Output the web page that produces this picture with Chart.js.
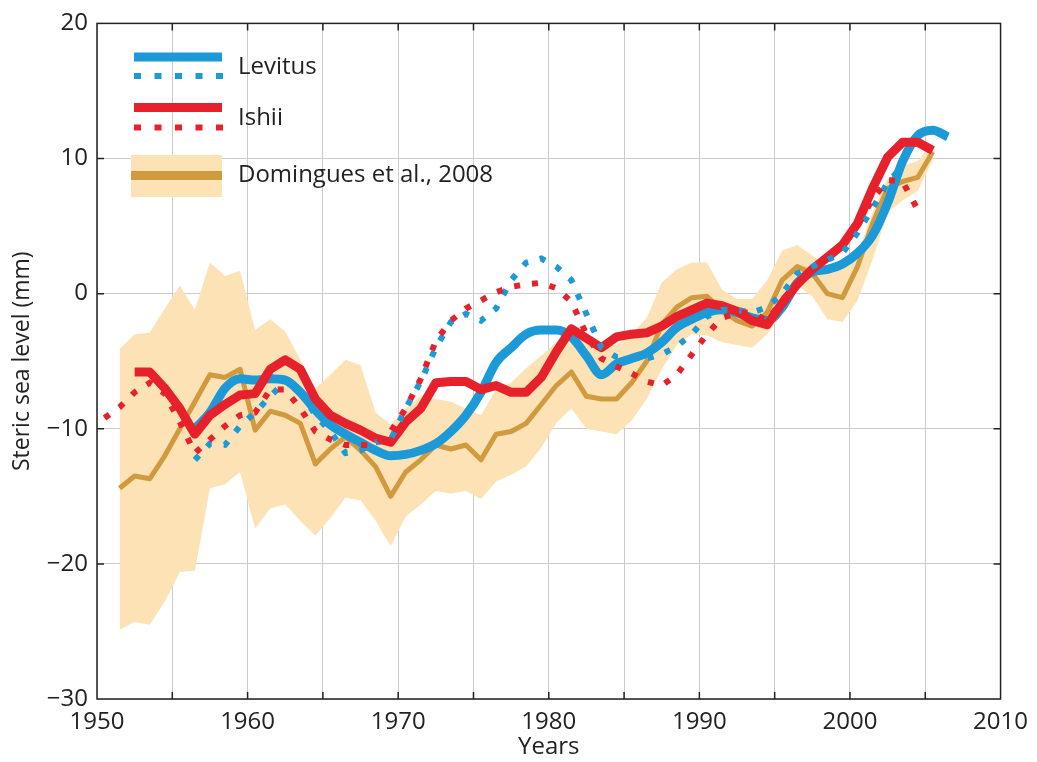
<!DOCTYPE html>
<html><head><meta charset="utf-8">
<script src="https://cdn.jsdelivr.net/npm/chart.js@4/dist/chart.umd.min.js"></script>
<style>html,body{margin:0;padding:0;background:#fff}#wrap{width:1037px;height:762px}</style>
</head><body><div id="wrap"><canvas id="c" width="1037" height="762"></canvas></div>
<script>
// Years: each series value is plotted at mid-year (start + index)
const levitusStart = 1956.5;
const levitus = [-10.0, -8.8, -7.0, -6.3, -6.4, -6.3, -6.4, -7.3, -8.6, -9.7,
  -10.4, -11.0, -11.6, -12.0, -11.9, -11.6, -11.1, -10.2, -9.0, -7.3,
  -5.1, -4.0, -3.0, -2.7, -2.7, -3.2, -4.6, -6.0, -5.2, -4.8,
  -4.4, -3.6, -2.5, -1.9, -1.4, -1.2, -1.4, -1.8, -2.0, -1.0,
  0.8, 1.6, 1.8, 2.2, 3.0, 4.3, 6.7, 9.8, 11.7, 12.1, 11.6];

const levitusDotStart = 1956.5;
const levitusDot = [-12.3, -11.1, -11.2, -9.8, -8.8, -7.6, -6.5, -7.2, -9.0, -10.2,
  -11.8, -11.6, -11.0, -10.8, -8.5, -6.5, -4.0, -2.1, -1.5, -2.0,
  -1.1, 1.0, 2.3, 2.6, 2.0, 1.0, -1.5, -4.0, -4.7, -4.8,
  -4.8, -4.5, -3.9, -3.0, -1.7, -1.2, -1.2, -1.4, -1.0, 0.0,
  1.5, 2.0, 2.5, 3.0, 4.5, 6.3, 8.2, 9.5];

const ishiiStart = 1952.5;
const ishii = [-5.8, -5.8, -7.0, -8.5, -10.4, -9.0, -8.2, -7.5, -7.4, -5.6,
  -4.9, -5.6, -7.8, -9.0, -9.6, -10.1, -10.7, -11.0, -9.5, -8.5,
  -6.6, -6.5, -6.5, -7.1, -6.8, -7.3, -7.3, -6.2, -4.3, -2.6,
  -3.3, -4.0, -3.2, -3.0, -2.9, -2.4, -1.7, -1.2, -0.7, -0.9,
  -1.3, -2.0, -2.3, -0.7, 0.7, 1.8, 2.7, 3.6, 5.2, 7.8,
  10.1, 11.2, 11.2, 10.6];

const ishiiDotStart = 1950.5;
const ishiiDot = [-9.2, -8.4, -7.3, -6.6, -7.4, -9.5, -11.8, -10.8, -9.8, -9.0,
  -8.8, -7.1, -7.1, -8.5, -10.2, -10.8, -11.2, -11.2, -11.2, -10.2,
  -8.5, -6.3, -3.5, -2.0, -1.1, -0.5, 0.1, 0.5, 0.7, 0.8,
  0.4, -0.6, -3.0, -4.8, -5.4, -5.9, -6.5, -6.8, -6.0, -4.5,
  -3.0, -1.8, -1.4, -1.4, -2.0, -0.5, 0.8, 1.8, 2.8, 3.5,
  5.0, 7.0, 8.4, 8.3, 6.2];

const domStart = 1951.5;
const domingues = [-14.4, -13.5, -13.7, -12.0, -10.0, -8.0, -6.0, -6.2, -5.6, -10.1,
  -8.7, -9.0, -9.6, -12.6, -11.5, -10.6, -11.6, -12.8, -15.0, -13.2,
  -12.3, -11.2, -11.5, -11.2, -12.3, -10.4, -10.2, -9.6, -8.2, -6.8,
  -5.8, -7.6, -7.8, -7.8, -6.6, -5.0, -2.3, -1.0, -0.3, -0.2,
  -1.2, -2.0, -2.4, -1.4, 1.0, 2.0, 1.5, 0.0, -0.3, 2.0,
  5.2, 7.8, 8.3, 8.6, 10.5];
const domUpper = [-4.1, -3.0, -2.9, -1.1, 0.6, -1.2, 2.3, 1.3, 1.7, -2.7,
  -1.9, -2.8, -4.9, -7.0, -6.0, -4.9, -5.3, -8.8, -9.7, -8.5,
  -7.6, -7.8, -8.0, -8.5, -9.0, -7.1, -6.6, -5.5, -4.6, -3.6,
  -2.5, -3.5, -3.8, -3.8, -3.0, -1.8, 0.8, 1.8, 2.3, 2.3,
  0.3, -0.4, -0.4, 1.0, 3.2, 3.6, 2.8, 2.0, 1.8, 3.0,
  6.0, 8.5, 9.5, 9.8, 11.2];
const domLower = [-24.9, -24.3, -24.5, -22.8, -20.6, -20.5, -14.4, -14.1, -13.2, -17.4,
  -15.9, -15.6, -16.8, -17.9, -16.6, -15.1, -15.3, -16.8, -18.7, -16.5,
  -15.6, -14.6, -14.8, -14.6, -15.2, -13.9, -13.4, -12.8, -11.4, -9.6,
  -8.5, -10.0, -10.2, -10.4, -9.4, -7.8, -5.6, -3.8, -3.0, -3.1,
  -3.6, -3.8, -4.0, -3.0, -1.5, 0.6, -0.2, -1.9, -2.1, -0.5,
  2.5, 6.0, 6.9, 7.6, 9.9];

const xTicks = [1950, 1960, 1970, 1980, 1990, 2000, 2010];
const yTicks = [-30, -20, -10, 0, 10, 20];
const legendLabels = ['Levitus', 'Ishii', 'Domingues et al., 2008'];

const BLUE = '#1c9ad8', RED = '#e6212b', GOLD = '#d29a3f', BAND = '#fde2b6';
const FONT = '"Open Sans", "DejaVu Sans", sans-serif';

function pts(start, vals) { return vals.map((v, i) => ({x: start + i, y: v})); }

const framePlugin = {
  id: 'frame',
  afterDraw(chart) {
    const {ctx, chartArea: a, scales} = chart;
    ctx.save();
    ctx.strokeStyle = '#222';
    ctx.lineWidth = 1.5;
    ctx.strokeRect(a.left, a.top, a.right - a.left, a.bottom - a.top);
    ctx.beginPath();
    for (let yr = 1955; yr < 2010; yr += 5) {
      const x = scales.x.getPixelForValue(yr);
      ctx.moveTo(x, a.bottom); ctx.lineTo(x, a.bottom - 7);
      ctx.moveTo(x, a.top); ctx.lineTo(x, a.top + 7);
    }
    for (let v = -20; v < 20; v += 10) {
      const y = scales.y.getPixelForValue(v);
      ctx.moveTo(a.left, y); ctx.lineTo(a.left + 7, y);
      ctx.moveTo(a.right, y); ctx.lineTo(a.right - 7, y);
    }
    ctx.stroke();

    // legend
    const x0 = 134, x1 = 222;
    ctx.lineCap = 'butt';
    function solid(y, c) { ctx.strokeStyle = c; ctx.lineWidth = 9; ctx.beginPath(); ctx.moveTo(x0, y); ctx.lineTo(x1, y); ctx.stroke(); }
    function dots(y, c) { ctx.fillStyle = c; for (let i = 0; i < 5; i++) { const dx = x0 + i * 20.5; ctx.fillRect(dx, y - 3, 7, 6); } }
    solid(57, BLUE); dots(76, BLUE);
    solid(107.5, RED); dots(127.5, RED);
    ctx.fillStyle = BAND; ctx.fillRect(131, 155, 91, 42);
    ctx.strokeStyle = GOLD; ctx.lineWidth = 9; ctx.beginPath(); ctx.moveTo(131, 175.5); ctx.lineTo(222, 175.5); ctx.stroke();
    ctx.fillStyle = '#222';
    ctx.font = '24px ' + FONT;
    ctx.textBaseline = 'middle';
    ctx.textAlign = 'left';
    ctx.fillText(legendLabels[0], 238, 67);
    ctx.fillText(legendLabels[1], 238, 118);
    ctx.fillText(legendLabels[2], 238, 175);
    ctx.restore();
  }
};

new Chart(document.getElementById('c'), {
  type: 'line',
  data: {
    datasets: [
      {label: 'upper', data: pts(domStart, domUpper), borderWidth: 0, pointRadius: 0, fill: false, order: 11, borderColor: 'rgba(0,0,0,0)'},
      {label: 'lower', data: pts(domStart, domLower), borderWidth: 0, pointRadius: 0, fill: '-1', backgroundColor: BAND, order: 10, borderColor: 'rgba(0,0,0,0)'},
      {label: 'Domingues', data: pts(domStart, domingues), borderColor: GOLD, borderWidth: 5, pointRadius: 0, fill: false, order: 9, borderJoinStyle: 'round'},
      {label: 'Levitus', data: pts(levitusStart, levitus), borderColor: BLUE, borderWidth: 9, pointRadius: 0, fill: false, order: 8, borderJoinStyle: 'round', cubicInterpolationMode: 'monotone', tension: 0.4},
      {label: 'Ishii', data: pts(ishiiStart, ishii), borderColor: RED, borderWidth: 9, pointRadius: 0, fill: false, order: 7, borderJoinStyle: 'round'},
      {label: 'Levitus dotted', data: pts(levitusDotStart, levitusDot), borderColor: BLUE, borderWidth: 6, borderDash: [6, 12], pointRadius: 0, fill: false, order: 6},
      {label: 'Ishii dotted', data: pts(ishiiDotStart, ishiiDot), borderColor: RED, borderWidth: 6, borderDash: [6, 12], pointRadius: 0, fill: false, order: 5}
    ]
  },
  options: {
    responsive: false,
    animation: false,
    devicePixelRatio: 1,
    layout: {padding: {top: 19, right: 32, left: 0, bottom: 0}},
    plugins: {legend: {display: false}, tooltip: {enabled: false}},
    elements: {line: {tension: 0}},
    scales: {
      x: {
        type: 'linear', min: 1950, max: 2010,
        afterFit(s) { s.height = 63; },
        afterBuildTicks(s) { const t = []; for (let v = 1950; v <= 2010; v += 5) t.push({value: v}); s.ticks = t; },
        ticks: {autoSkip: false, maxRotation: 0, padding: 9, color: '#222', font: {family: FONT, size: 24},
          callback: v => xTicks.includes(v) ? String(v) : ''},
        grid: {color: '#cccccc', lineWidth: 1, drawTicks: false},
        border: {display: false},
        title: {display: true, text: 'Years', color: '#222', font: {family: FONT, size: 24}, padding: {top: 0, bottom: 0}}
      },
      y: {
        min: -30, max: 20,
        afterFit(s) { s.width = 97; },
        afterBuildTicks(s) { s.ticks = yTicks.map(v => ({value: v})); },
        ticks: {autoSkip: false, padding: 9, color: '#222', font: {family: FONT, size: 24},
          callback: v => v < 0 ? '\u2212' + Math.abs(v) : String(v)},
        grid: {color: '#cccccc', lineWidth: 1, drawTicks: false},
        border: {display: false},
        title: {display: true, text: 'Steric sea level (mm)', color: '#222', font: {family: FONT, size: 23}, padding: {top: 9, bottom: 0}}
      }
    }
  },
  plugins: [framePlugin]
});
</script>
</body></html>
